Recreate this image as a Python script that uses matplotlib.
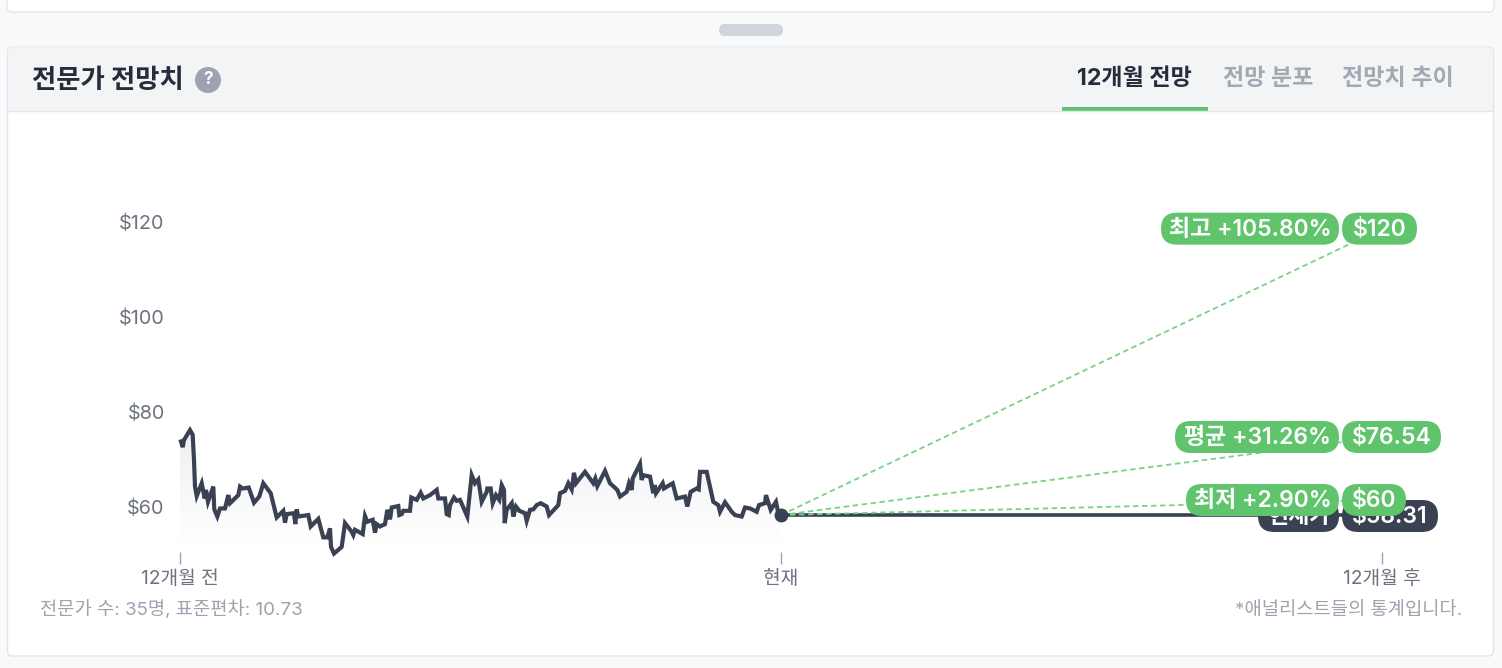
import numpy as np
import matplotlib
matplotlib.use("Agg")
from matplotlib import pyplot as plt
from matplotlib.patches import FancyBboxPatch, Rectangle, Circle, PathPatch
from matplotlib.path import Path

plt.rcParams['font.family'] = ['Inter', 'Noto Sans CJK KR', 'DejaVu Sans']

# days since start of the chart, 601 = today, 1202 = 12 months ahead
days = [1, 2.7, 4, 10, 12.7, 14, 15, 16.7, 21.7, 24.7, 26, 28, 33.3, 34.3, 37.3, 40, 45, 48.3, 50, 58.3,
        60, 62.7, 68.7, 74, 79.3, 83.3, 90.7, 96.7, 103.3, 105, 106.7, 114, 115.3, 116.7, 118.3, 128.3,
        130.7, 138.3, 143.3, 147.3, 150, 151, 154, 161.7, 165, 171.7, 173.3, 175, 182.7, 185, 187.3,
        192.7, 195, 196.7, 200, 205, 207.3, 210, 211.7, 218.3, 219.3, 221.7, 223.3, 230, 231.3, 236.7,
        240.7, 243.3, 250, 256.7, 258.3, 265, 266.7, 268.7, 270, 274, 276.7, 280, 287.3, 291.7, 295,
        298.3, 301.7, 306.7, 307.3, 310.7, 312.7, 316, 319.3, 321.7, 324, 324.7, 326.7, 331.7, 333.3,
        336, 339.3, 345, 346.7, 350, 353.3, 356.7, 360.7, 366.7, 369, 378.3, 380, 385, 388.3, 391.7,
        394, 396, 405, 413.3, 415.3, 417.3, 425, 430, 437.3, 440, 446.7, 449, 451.7, 452.7, 460, 461.7,
        463.3, 470, 473.3, 474.7, 476, 482.7, 484, 492.7, 496.7, 505, 507.3, 510.7, 516.7, 518.7, 520,
        526.7, 533.3, 538.3, 540, 545, 551.7, 555, 561.7, 565, 570, 576.7, 579, 585, 586, 590.7, 596,
        598.3, 600, 601]
prices = [73.8, 72.6, 74.1, 76.2, 75.2, 69.9, 64.3, 62.3, 65.0, 61.8, 63.6, 61.1, 64.3, 59.5, 58.0, 59.7,
          59.7, 62.5, 60.8, 62.5, 64.3, 63.9, 64.1, 60.9, 62.2, 65.0, 62.9, 57.8, 59.2, 56.7, 58.5, 58.7,
          56.4, 59.5, 58.0, 58.3, 55.9, 57.5, 53.6, 53.6, 55.5, 51.6, 50.2, 51.6, 56.6, 54.8, 54.1, 55.2,
          54.3, 58.1, 56.9, 57.3, 54.6, 56.4, 55.9, 56.4, 59.4, 57.4, 59.9, 60.2, 58.3, 58.5, 59.2, 59.2,
          62.0, 61.5, 63.0, 61.8, 62.5, 63.6, 61.8, 61.8, 58.5, 58.3, 60.4, 62.0, 61.3, 61.5, 58.0, 66.7,
          65.0, 65.8, 61.1, 63.2, 63.9, 63.9, 60.8, 62.5, 61.5, 64.6, 63.6, 56.6, 59.4, 60.8, 58.0, 60.1,
          59.2, 58.7, 57.1, 59.4, 59.5, 60.4, 60.8, 60.1, 58.3, 60.4, 62.9, 63.4, 65.0, 63.7, 67.2, 65.0,
          67.4, 65.0, 66.0, 64.4, 67.6, 65.0, 63.6, 62.2, 63.2, 65.0, 63.6, 66.0, 69.1, 65.7, 66.7, 66.4,
          62.9, 64.6, 62.9, 65.0, 63.9, 65.0, 61.8, 62.2, 60.1, 63.2, 63.9, 63.7, 67.4, 67.4, 61.1, 60.4,
          59.0, 61.0, 59.0, 58.3, 58.0, 59.9, 59.7, 59.0, 60.4, 60.8, 62.5, 59.4, 61.1, 58.7, 57.3, 58.31]

y_ticks = [60, 80, 100, 120]
y_labels = ['$60', '$80', '$100', '$120']
x_ticks = [0, 601, 1202]
x_labels = ['12개월 전', '현재', '12개월 후']

current_level = 58.31
target_levels = [118.6, 74.74, 61.47]      # where the pills sit on the axis
target_names = ['최고 +105.80%', '평균 +31.26%', '최저 +2.90%']
target_values = ['$120', '$76.54', '$60']

# pill widths in px
target_name_w = [178, 164, 153]
target_value_w = [75, 99, 64]

DARK = '#394153'
GREEN = '#5fc46c'
DASH = '#74d484'

fig = plt.figure(figsize=(15.02, 6.68), dpi=100, facecolor='#f8f9fb')

# page chrome, in pixels
bg = fig.add_axes([0, 0, 1, 1])
bg.set_xlim(0, 1502)
bg.set_ylim(668, 0)
bg.axis('off')
bg.add_patch(FancyBboxPatch((7, -20), 1487, 32, boxstyle='round,pad=0,rounding_size=5', fc='white', ec='#e5e7eb', lw=1))
bg.add_patch(FancyBboxPatch((719, 24), 64, 12, boxstyle='round,pad=0,rounding_size=6', fc='#d1d5db', ec='none'))
bg.add_patch(FancyBboxPatch((7.5, 47), 1486, 609, boxstyle='round,pad=0,rounding_size=5', fc='white', ec='#e3e5e9', lw=1))
bg.add_patch(FancyBboxPatch((8, 47.5), 1485, 63, boxstyle='round,pad=0,rounding_size=4', fc='#f3f4f6', ec='none'))
bg.add_patch(Rectangle((8, 106), 1485, 5, fc='#f3f4f6', ec='none'))
bg.plot([8, 1493], [111, 111], color='#e3e5e9', lw=1)
bg.text(32, 81.5, '전문가 전망치', fontsize=19, fontweight='bold', color='#252c3b', va='center')
bg.add_patch(Circle((208, 80), 13, fc='#9ca3af', ec='none'))
bg.text(208, 80, '?', fontsize=12.5, fontweight='bold', color='white', ha='center', va='center')
bg.text(1134, 79, '12개월 전망', fontsize=16.6, fontweight='bold', color='#252c3b', ha='center', va='center')
bg.text(1268, 79, '전망 분포', fontsize=16.6, fontweight='bold', color='#a3a9b3', ha='center', va='center')
bg.text(1398, 79, '전망치 추이', fontsize=16.6, fontweight='bold', color='#a3a9b3', ha='center', va='center')
bg.add_patch(Rectangle((1062, 107), 146, 3.5, fc=GREEN, ec='none'))
bg.text(40, 610, '전문가 수: 35명, 표준편차: 10.73', fontsize=13.5, color='#9ca3af', va='center')
bg.text(1462, 610, '*애널리스트들의 통계입니다.', fontsize=13.5, color='#9ca3af', ha='right', va='center')

# chart axes: 1 day = 1 px, 1 dollar = 4.75 px
ax = fig.add_axes([180 / 1502, (668 - 552) / 668, 1202 / 1502, 422 / 668])
ax.patch.set_alpha(0)
y_min, y_max = 60 - 45 / 4.75, 60 + 377 / 4.75
px_per_dollar = 4.75

# gradient under the price line
fill_floor = 51.6
grad = np.linspace(0, 1, 128).reshape(-1, 1)
im = ax.imshow(grad, extent=[0, 601, fill_floor, 77], origin='upper', aspect='auto', cmap=matplotlib.colors.LinearSegmentedColormap.from_list('f', ['#eeeff2', '#ffffff']), zorder=1)
verts = list(zip(days, prices)) + [(601, fill_floor), (0, fill_floor), (0, prices[0])]
clip = PathPatch(Path(verts + [verts[0]]), transform=ax.transData, fc='none', ec='none')
ax.add_patch(clip)
im.set_clip_path(clip)

# dashed target lines, then the flat current price line
ax.plot([601, 1202], [current_level, current_level], color=DARK, lw=2.6, zorder=2, solid_capstyle='butt')
for lvl in target_levels:
    ax.plot([601, 1202], [current_level, lvl], color=DASH, lw=1.3, ls=(0, (3, 2)), zorder=3)

ax.plot(days, prices, color=DARK, lw=3, zorder=4, clip_on=False, solid_joinstyle='miter')
ax.scatter([601], [current_level], s=100, color=DARK, zorder=5, clip_on=False, linewidths=0)


def pill(x, level, w, text, color, z):
    h = 32 / px_per_dollar
    ax.add_patch(FancyBboxPatch((x, level - h / 2), w, h, boxstyle='round,pad=0,rounding_size=16',
                                mutation_aspect=1 / px_per_dollar, fc=color, ec='none', zorder=z, clip_on=False))
    ax.text(x + w / 2, level - 0.25, text, color='white', fontsize=16.5, fontweight='semibold',
            ha='center', va='center', zorder=z + 0.5)


pill(1078, current_level - 0.2, 81, '현재가', DARK, 6)
pill(1162, current_level - 0.2, 96, '$58.31', DARK, 6)
for lvl, name, val, nw, vw in zip(target_levels, target_names, target_values, target_name_w, target_value_w):
    pill(1159 - nw, lvl, nw, name, GREEN, 8)
    pill(1162, lvl, vw, val, GREEN, 8)

ax.set_xlim(0, 1202)
ax.set_ylim(y_min, y_max)
ax.set_xticks(x_ticks)
ax.set_xticklabels(x_labels, fontsize=13.8, color='#6b7280')
ax.set_yticks(y_ticks)
ax.set_yticklabels(y_labels, fontsize=14.3, color='#6b7280')
ax.tick_params(axis='x', length=8.5, width=1, color='#9ca3af', pad=4.5)
ax.tick_params(axis='y', length=0, pad=11)
for s in ax.spines.values():
    s.set_visible(False)

fig.savefig('out.png', dpi=100, facecolor=fig.get_facecolor())
